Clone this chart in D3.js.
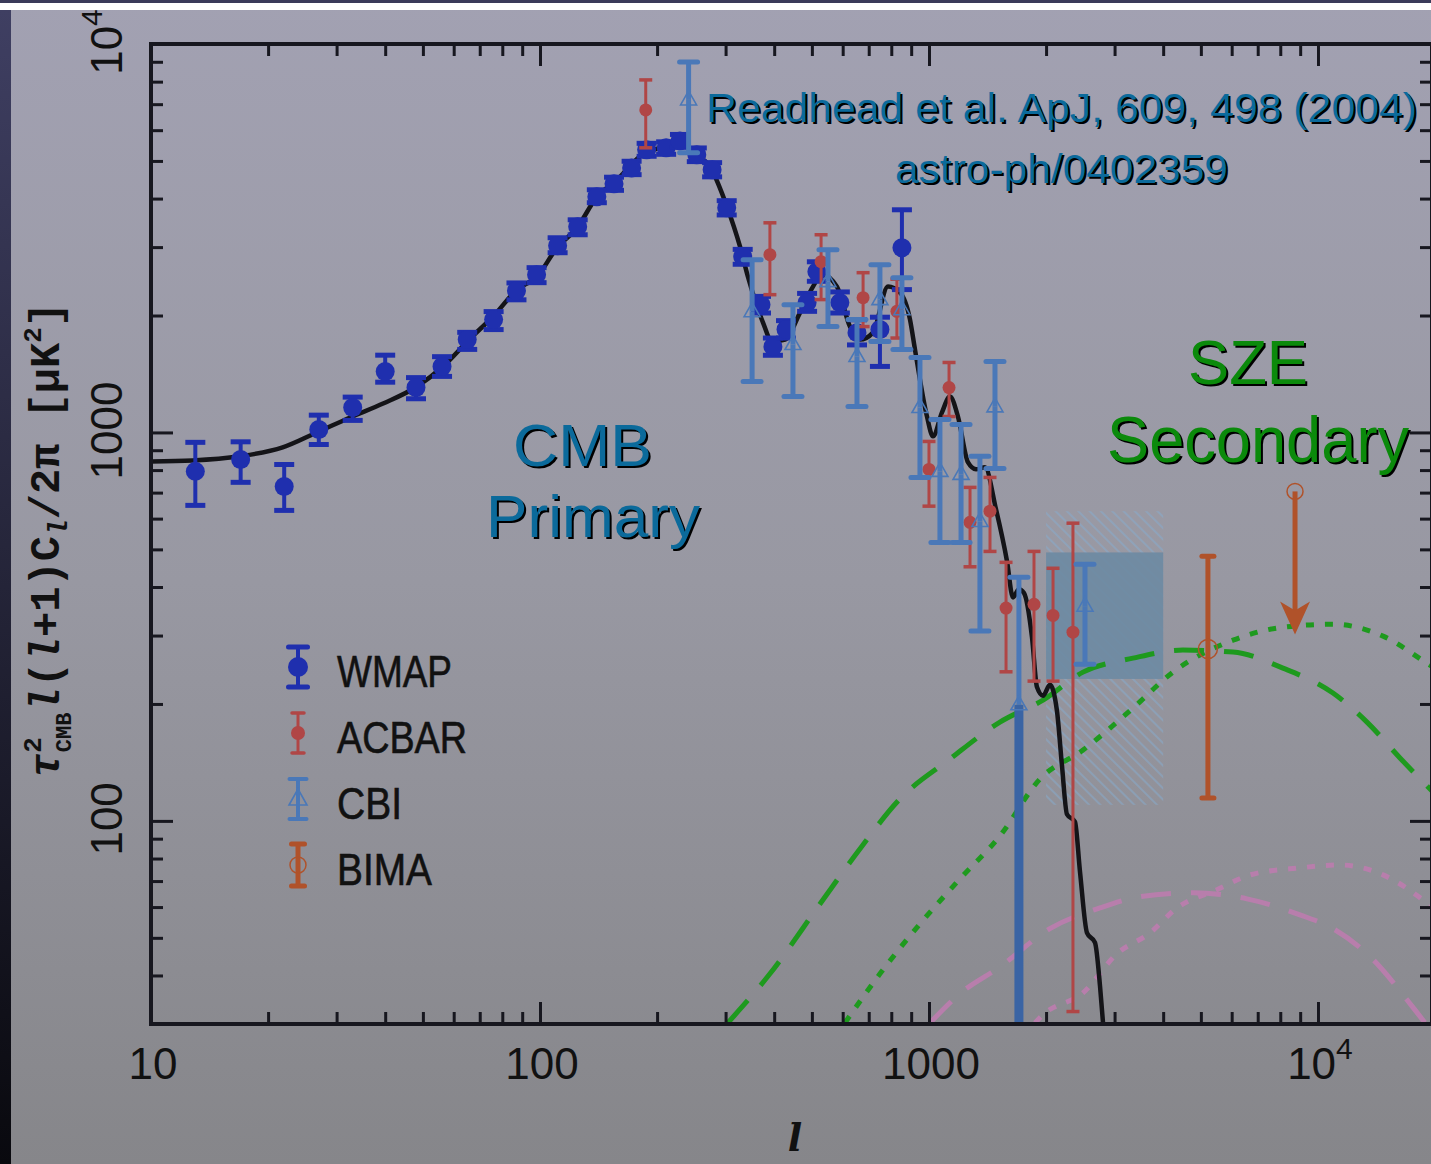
<!DOCTYPE html>
<html>
<head>
<meta charset="utf-8">
<script src="https://cdn.jsdelivr.net/npm/d3@7"></script>
<style>
  html, body { margin: 0; padding: 0; background: #fff; }
  svg { display: block; }
  svg text { font-family: "Liberation Sans", Arial, sans-serif; }
</style>
</head>
<body>
<div id="chart"></div>
<script>
// ---- values: multipole l and l(l+1)C_l/2pi [uK^2] ----

// best-fit primary CMB spectrum (black line)
var theoryL = [10, 12.8, 16.9, 21.8, 26.7, 32.5, 39.5, 48.3, 56.3, 66.1, 75.7, 87.3, 98.2, 110.6, 124.5,
  140.1, 157.8, 173.4, 184, 203.5, 226.3, 253.3, 273.5, 302.5, 326.8, 342.4, 374.4, 394.9, 426.6, 466.1,
  503.3, 530.8, 580, 626.4, 664.6, 717.8, 784.6, 842.3, 893.8, 920.5, 988.3, 1024, 1080, 1132, 1187,
  1260, 1321, 1393, 1487, 1587, 1644, 1703, 1755, 1840, 1895, 1964, 2046, 2133, 2197, 2263,
  2373, 2445, 2548, 2672, 2752, 2801];
var theoryD = [842, 847, 868, 915, 1000, 1093, 1187, 1313, 1478, 1744, 1987, 2332, 2518, 2989, 3365,
  4043, 4471, 4944, 5215, 5404, 5633, 5185, 4829, 3811, 3007, 2518, 1918, 1714, 1734, 2035,
  2374, 2548, 2374, 1873, 1734, 1807, 2374, 2291, 1952, 1635, 1099, 977, 1126, 1237, 1099,
  837, 804, 813, 634, 466, 376, 395, 386, 297, 221, 210, 224, 192, 139, 104,
  99.4, 73.9, 51.5, 48.6, 37.6, 30.3];

// SZE secondary model curves
var szeDashL = [304, 390, 525, 665, 842, 1132, 1522, 1964, 2489, 3345, 4498, 6047, 8128, 10929, 13366, 16249, 20590];
var szeDashD = [30.2, 40.4, 61.2, 84.8, 113.9, 144.3, 179.6, 204.7, 241.5, 262.4, 275.2, 272, 247.3, 213.4, 179.6, 145.2, 113.9];
var szeDotL = [608, 748, 948, 1201, 1522, 1929, 2489, 3345, 4239, 6047, 8128, 10929, 14697, 19405, 21210];
var szeDotD = [30.2, 40.4, 54.3, 70.9, 91.5, 128.2, 152.2, 195.2, 241.5, 291.9, 315.2, 320.9, 298.9, 251.8, 238.6];
var lowDashL = [1006, 1201, 1522, 2046, 2752, 3487, 4772, 6571, 8989, 10929, 13366, 17547, 18843];
var lowDashD = [30.2, 35.9, 42.1, 52.8, 59.7, 63.8, 65.3, 63.0, 57.3, 52.8, 45.5, 33.1, 30.2];
var lowDotL = [1873, 1964, 2489, 3043, 3700, 4341, 5502, 6688, 8989, 11392, 14697, 18621, 20590];
var lowDotD = [30.2, 31.7, 36.1, 45.5, 51.5, 59.7, 66.5, 72.6, 75.7, 77.0, 72.6, 62.6, 57.7];

// WMAP
var wmapL  = [13, 17, 22, 27, 33, 40, 48, 56, 65, 76, 87, 98, 111, 125, 140, 155, 172, 188, 211, 229,
  253, 277, 302, 332, 370, 397, 429, 486, 515, 590, 653, 748, 852];
var wmapD  = [794, 852, 726, 1018, 1159, 1435, 1305, 1479, 1734, 1952, 2317, 2547, 3025, 3384, 4044, 4365, 4797, 5340, 5403, 5631,
  5184, 4744, 3788, 2834, 2133, 1663, 1840, 2159, 2594, 2159, 1807, 1840, 2990];
var wmapHi = [943, 946, 827, 1108, 1233, 1581, 1384, 1567, 1810, 2047, 2426, 2656, 3171, 3527, 4214, 4540, 4990, 5550, 5600, 5850,
  5400, 4950, 3950, 2960, 2240, 1750, 1940, 2280, 2750, 2300, 1950, 1980, 3743];
var wmapLo = [649, 744, 630, 931, 1074, 1347, 1221, 1394, 1636, 1840, 2195, 2430, 2902, 3228, 3903, 4200, 4610, 5140, 5200, 5420,
  4980, 4550, 3630, 2710, 2030, 1580, 1750, 2050, 2450, 2030, 1680, 1479, 2332];

// ACBAR
var acbarL  = [187, 390, 528, 677, 827, 1000, 1126, 1275, 1435, 1578, 1862, 2084, 2345];
var acbarD  = [6765, 2868, 2752, 2223, 2050, 803, 1305, 587, 627, 353, 361, 338, 306];
var acbarHi = [8083, 3465, 3228, 2578, 2480, 948, 1514, 722, 766, 463, 494, 447, 584];
var acbarLo = [5405, 2263, 2198, 1873, 1750, 646, 1099, 451, 494, 242, 229, 229, 32.3];

// CBI (lower error of 1 = down to zero)
var cbiL  = [241, 351, 447, 550, 653, 748, 852, 948, 1067, 1209, 1352, 1478, 1703, 2518];
var cbiD  = [7178, 2046, 1684, 2445, 1568, 2198, 2070, 1159, 794, 780, 590, 1164, 199, 357];
var cbiHi = [8990, 2784, 2133, 2954, 1952, 2703, 2503, 1560, 1080, 1049, 868, 1523, 424, 458];
var cbiLo = [5246, 1352, 1237, 1873, 1166, 1714, 1635, 766, 521, 521, 308, 808, 1, 253];

// BIMA
var bimaL = [5213], bimaD = [277], bimaHi = [480], bimaLo = [114.5];
var bimaLimitL = [8730], bimaLimitD = [705], bimaLimitTip = [302];

// CBI deep-field excess band (l range, power range) and its hatched extent
var bandL = [2000, 4000];
var bandD = [232, 491];
var bandHatchD = [110, 627];

// axes
var xMajor = [10, 100, 1000, 10000];
var xMajorText = ["10", "100", "1000", "10^4"];
var yMajor = [100, 1000, 10000];
var yMajorText = ["100", "1000", "10^4"];

var legendNames = ["WMAP", "ACBAR", "CBI", "BIMA"];

// ------------------------------------------------------------------------

var W = 1431, H = 1164;
var plotL = 151, plotR = 1432, plotT = 44, plotB = 1024;

var x = d3.scaleLog().domain([10, 19640]).range([plotL, plotR]);
var y = d3.scaleLog().domain([30, 10000]).range([plotB, plotT]);

var svg = d3.select("#chart").append("svg")
    .attr("width", W)
    .attr("height", H);

var defs = svg.append("defs");

var bg = defs.append("linearGradient").attr("id", "bg")
    .attr("x1", 0).attr("y1", 0).attr("x2", 0).attr("y2", 1);
bg.append("stop").attr("offset", "0%").attr("stop-color", "#a2a1b2");
bg.append("stop").attr("offset", "50%").attr("stop-color", "#9898a2");
bg.append("stop").attr("offset", "100%").attr("stop-color", "#86868a");

var side = defs.append("linearGradient").attr("id", "side")
    .attr("x1", 0).attr("y1", 0).attr("x2", 0).attr("y2", 1);
side.append("stop").attr("offset", "0%").attr("stop-color", "#3f3f62");
side.append("stop").attr("offset", "100%").attr("stop-color", "#09090e");

var hatch = defs.append("pattern").attr("id", "hatch")
    .attr("patternUnits", "userSpaceOnUse")
    .attr("width", 8).attr("height", 8)
    .attr("patternTransform", "rotate(-45)");
hatch.append("line")
    .attr("x1", 1).attr("y1", 0).attr("x2", 1).attr("y2", 8)
    .attr("stroke", "#86accf").attr("stroke-width", 1);

defs.append("clipPath").attr("id", "clip")
  .append("rect")
    .attr("x", plotL).attr("y", plotT)
    .attr("width", plotR - plotL).attr("height", plotB - plotT);

// background, slide frame bits
svg.append("rect").attr("width", W).attr("height", H).attr("fill", "url(#bg)");
svg.append("rect").attr("x", 0).attr("y", 0).attr("width", W).attr("height", 3).attr("fill", "#3b3b5a");
svg.append("rect").attr("x", 0).attr("y", 3).attr("width", W).attr("height", 7).attr("fill", "#ffffff");
svg.append("rect").attr("x", 0).attr("y", 10).attr("width", 11).attr("height", H - 10).attr("fill", "url(#side)");

var plot = svg.append("g").attr("clip-path", "url(#clip)");

// ****************** band ***************************
plot.append("rect")
    .attr("x", x(bandL[0])).attr("width", x(bandL[1]) - x(bandL[0]))
    .attr("y", y(bandHatchD[1])).attr("height", y(bandHatchD[0]) - y(bandHatchD[1]))
    .attr("fill", "url(#hatch)");
plot.append("rect")
    .attr("x", x(bandL[0])).attr("width", x(bandL[1]) - x(bandL[0]))
    .attr("y", y(bandD[1])).attr("height", y(bandD[0]) - y(bandD[1]))
    .attr("fill", "#6d8aa2").attr("fill-opacity", 0.9);

// ****************** curves ***************************
var line = d3.line()
    .x(function(d) { return x(d[0]); })
    .y(function(d) { return y(d[1]); })
    .curve(d3.curveMonotoneX);

function pairs(L, D) {
  return L.map(function(l, i) { return [l, D[i]]; });
}

var models = [
  {L: lowDashL, D: lowDashD, color: "#b87eac", dash: "30,20"},
  {L: lowDotL,  D: lowDotD,  color: "#b87eac", dash: "8,11"},
  {L: szeDashL, D: szeDashD, color: "#1e9a1e", dash: "30,20"},
  {L: szeDotL,  D: szeDotD,  color: "#1e9a1e", dash: "8,11"}
];

plot.selectAll("path.model")
    .data(models)
  .enter().append("path")
    .attr("class", "model")
    .attr("d", function(m) { return line(pairs(m.L, m.D)); })
    .attr("fill", "none")
    .attr("stroke", function(m) { return m.color; })
    .attr("stroke-width", 5)
    .attr("stroke-dasharray", function(m) { return m.dash; });

plot.append("path")
    .attr("d", line(pairs(theoryL, theoryD)))
    .attr("fill", "none")
    .attr("stroke", "#141418")
    .attr("stroke-width", 4.5)
    .attr("stroke-linejoin", "round");

// ****************** data points ***************************
function series(L, D, Hi, Lo) {
  return L.map(function(l, i) { return {l: l, d: D[i], hi: Hi[i], lo: Lo[i]}; });
}

function drawSeries(data, st) {
  var g = plot.append("g");
  var pt = g.selectAll("g.pt").data(data).enter().append("g").attr("class", "pt");

  // upper part of the bar, lower part separately (it may run to zero)
  pt.append("line")
      .attr("x1", function(d) { return x(d.l); })
      .attr("x2", function(d) { return x(d.l); })
      .attr("y1", function(d) { return y(d.hi); })
      .attr("y2", function(d) { return y(d.d); })
      .attr("stroke", st.color).attr("stroke-width", st.bar);
  pt.append("line")
      .attr("x1", function(d) { return x(d.l); })
      .attr("x2", function(d) { return x(d.l); })
      .attr("y1", function(d) { return y(d.d); })
      .attr("y2", function(d) { return d.lo < 30 ? plotB + 5 : y(d.lo); })
      .attr("stroke", function(d) { return d.lo < 30 && st.zeroColor ? st.zeroColor : st.color; })
      .attr("stroke-width", function(d) { return d.lo < 30 && st.zeroBar ? st.zeroBar : st.bar; });

  // caps
  pt.append("line")
      .attr("x1", function(d) { return x(d.l) - st.cap / 2; })
      .attr("x2", function(d) { return x(d.l) + st.cap / 2; })
      .attr("y1", function(d) { return y(d.hi); })
      .attr("y2", function(d) { return y(d.hi); })
      .attr("stroke", st.color).attr("stroke-width", st.capW)
      .attr("stroke-linecap", st.round ? "round" : "butt");
  pt.filter(function(d) { return d.lo >= 30; }).append("line")
      .attr("x1", function(d) { return x(d.l) - st.cap / 2; })
      .attr("x2", function(d) { return x(d.l) + st.cap / 2; })
      .attr("y1", function(d) { return y(d.lo); })
      .attr("y2", function(d) { return y(d.lo); })
      .attr("stroke", st.color).attr("stroke-width", st.capW)
      .attr("stroke-linecap", st.round ? "round" : "butt");

  // markers
  if (st.marker === "triangle") {
    pt.append("path")
        .attr("d", function(d) {
          var cx = x(d.l), cy = y(d.d);
          return "M" + cx + "," + (cy - 9) + "L" + (cx + 8) + "," + (cy + 5) + "L" + (cx - 8) + "," + (cy + 5) + "Z";
        })
        .attr("fill", "none").attr("stroke", st.color).attr("stroke-width", 1.6);
  } else {
    pt.append("circle")
        .attr("cx", function(d) { return x(d.l); })
        .attr("cy", function(d) { return y(d.d); })
        .attr("r", st.r)
        .attr("fill", st.open ? "none" : st.color)
        .attr("stroke", st.open ? st.color : "none")
        .attr("stroke-width", 1.5);
  }
}

drawSeries(series(wmapL, wmapD, wmapHi, wmapLo),
  {color: "#1f2fae", bar: 4, cap: 20, capW: 5, r: 9.5});
drawSeries(series(acbarL, acbarD, acbarHi, acbarLo),
  {color: "#b04646", bar: 3, cap: 13, capW: 3.5, r: 6.5});
drawSeries(series(cbiL, cbiD, cbiHi, cbiLo),
  {color: "#4a78b8", bar: 5, cap: 18, capW: 5, round: true, marker: "triangle",
   zeroColor: "#3a64a4", zeroBar: 9});
drawSeries(series(bimaL, bimaD, bimaHi, bimaLo),
  {color: "#b0522a", bar: 5, cap: 12, capW: 5, round: true, r: 9.5, open: true});

// BIMA upper limit with arrow
bimaLimitL.forEach(function(l, i) {
  var cx = x(l), top = y(bimaLimitD[i]), tip = y(bimaLimitTip[i]);
  plot.append("circle").attr("cx", cx).attr("cy", top).attr("r", 8)
      .attr("fill", "none").attr("stroke", "#b0522a").attr("stroke-width", 1.5);
  plot.append("line").attr("x1", cx).attr("x2", cx).attr("y1", top).attr("y2", tip - 20)
      .attr("stroke", "#b0522a").attr("stroke-width", 5);
  var p = d3.path();
  p.moveTo(cx, tip);
  p.lineTo(cx - 15, tip - 33);
  p.lineTo(cx, tip - 24);
  p.lineTo(cx + 15, tip - 33);
  p.closePath();
  plot.append("path").attr("d", p.toString()).attr("fill", "#b0522a");
});

// ****************** axes ***************************
var minorX = [], minorY = [];
[10, 100, 1000, 10000].forEach(function(dec) {
  for (var m = 2; m <= 9; m++) {
    if (dec * m < 19640) minorX.push(dec * m);
    if (dec * m > 30 && dec * m < 10000) minorY.push(dec * m);
  }
});

function ticks(axis, vals, size, transform) {
  svg.append("g")
      .attr("transform", transform)
      .attr("color", "#17171f")
      .call(axis.tickValues(vals).tickSize(size).tickFormat(""))
      .call(function(g) { g.select(".domain").remove(); })
      .selectAll("line").attr("stroke-width", 3);
}

ticks(d3.axisBottom(x), xMajor, -22, "translate(0," + plotB + ")");
ticks(d3.axisBottom(x), minorX, -12, "translate(0," + plotB + ")");
ticks(d3.axisTop(x), xMajor, -22, "translate(0," + plotT + ")");
ticks(d3.axisTop(x), minorX, -12, "translate(0," + plotT + ")");
ticks(d3.axisLeft(y), yMajor, -22, "translate(" + plotL + ",0)");
ticks(d3.axisLeft(y), minorY, -12, "translate(" + plotL + ",0)");
ticks(d3.axisRight(y), yMajor, -22, "translate(" + plotR + ",0)");
ticks(d3.axisRight(y), minorY, -12, "translate(" + plotR + ",0)");

svg.append("rect")
    .attr("x", plotL).attr("y", plotT)
    .attr("width", plotR - plotL).attr("height", plotB - plotT)
    .attr("fill", "none").attr("stroke", "#17171f").attr("stroke-width", 4);

function tickText(sel, str) {
  var parts = str.split("^");
  sel.append("tspan").text(parts[0]);
  if (parts[1]) sel.append("tspan").style("font-size", "30px").attr("dy", -20).text(parts[1]);
}

xMajor.forEach(function(v, i) {
  var t = svg.append("text")
      .attr("x", x(v) + 2)
      .attr("y", 1079)
      .attr("text-anchor", "middle")
      .style("font-size", "44px")
      .attr("fill", "#111");
  tickText(t, xMajorText[i]);
});

yMajor.forEach(function(v, i) {
  var t = svg.append("text")
      .attr("transform", "translate(122," + (y(v) - 2) + ") rotate(-90)")
      .attr("text-anchor", "middle")
      .style("font-size", "44px")
      .attr("fill", "#111");
  tickText(t, yMajorText[i]);
});

// axis titles
svg.append("text")
    .attr("x", 795).attr("y", 1151)
    .attr("text-anchor", "middle")
    .style("font-family", "'DejaVu Serif', serif")
    .style("font-style", "italic")
    .style("font-weight", "bold")
    .style("font-size", "38px")
    .attr("fill", "#111")
    .text("l");

var mono = "'Liberation Mono', 'DejaVu Sans Mono', monospace";
var yt = svg.append("text")
    .attr("transform", "translate(59,540) rotate(-90)")
    .attr("text-anchor", "middle")
    .style("font-family", mono)
    .style("font-size", "42px")
    .style("font-weight", "bold")
    .attr("fill", "#111");
yt.append("tspan").style("font-style", "italic").text("τ");
yt.append("tspan").style("font-size", "26px").attr("dy", -18).text("2");
yt.append("tspan").style("font-size", "22px").attr("dx", -15).attr("dy", 30).text("CMB");
yt.append("tspan").style("font-style", "italic").attr("dy", -12).text("l");
yt.append("tspan").text("(");
yt.append("tspan").style("font-style", "italic").text("l");
yt.append("tspan").text("+1)C");
yt.append("tspan").style("font-style", "italic").style("font-size", "28px").attr("dy", 8).text("l");
yt.append("tspan").attr("dy", -8).text("/2π [μK");
yt.append("tspan").style("font-size", "26px").attr("dy", -18).text("2");
yt.append("tspan").attr("dy", 18).text("]");

// ****************** legend ***************************
var legendY = [667, 733, 799, 865];
var legendStyle = [
  {color: "#1f2fae", half: 20, cap: 19, bar: 4, capW: 5, mark: "dot", r: 10},
  {color: "#b04646", half: 20, cap: 12, bar: 3, capW: 3.5, mark: "dot", r: 7},
  {color: "#4a78b8", half: 20, cap: 17, bar: 4, capW: 4, mark: "tri"},
  {color: "#b0522a", half: 21, cap: 13, bar: 5, capW: 5, mark: "ring", r: 8}
];
var legendLen = [115, 130, 65, 95];

legendNames.forEach(function(name, i) {
  var st = legendStyle[i], cy = legendY[i], cx = 298;
  var g = svg.append("g");
  g.append("line").attr("x1", cx).attr("x2", cx).attr("y1", cy - st.half).attr("y2", cy + st.half)
      .attr("stroke", st.color).attr("stroke-width", st.bar);
  [cy - st.half, cy + st.half].forEach(function(yy) {
    g.append("line").attr("x1", cx - st.cap / 2).attr("x2", cx + st.cap / 2).attr("y1", yy).attr("y2", yy)
        .attr("stroke", st.color).attr("stroke-width", st.capW).attr("stroke-linecap", "round");
  });
  if (st.mark === "dot") {
    g.append("circle").attr("cx", cx).attr("cy", cy).attr("r", st.r).attr("fill", st.color);
  } else if (st.mark === "ring") {
    g.append("circle").attr("cx", cx).attr("cy", cy).attr("r", st.r)
        .attr("fill", "none").attr("stroke", st.color).attr("stroke-width", 1.5);
  } else {
    g.append("path")
        .attr("d", "M" + cx + "," + (cy - 10) + "L" + (cx + 9) + "," + (cy + 6) + "L" + (cx - 9) + "," + (cy + 6) + "Z")
        .attr("fill", "none").attr("stroke", st.color).attr("stroke-width", 1.6);
  }
  g.append("text")
      .attr("x", 337).attr("y", cy + 20)
      .style("font-size", "44px")
      .attr("textLength", legendLen[i])
      .attr("lengthAdjust", "spacingAndGlyphs")
      .attr("fill", "#111")
      .attr("stroke", "#111").attr("stroke-width", 0.6)
      .text(name);
});

// ****************** annotations ***************************
function shadowText(str, tx, ty, size, color, len) {
  [["#000", 2], [color, 0]].forEach(function(c) {
    svg.append("text")
        .attr("x", tx + c[1]).attr("y", ty + c[1])
        .style("font-size", size + "px")
        .attr("textLength", len)
        .attr("lengthAdjust", "spacingAndGlyphs")
        .attr("fill", c[0])
        .text(str);
  });
}

shadowText("Readhead et al. ApJ, 609, 498 (2004)", 706, 122, 41, "#0b6a9b", 711);
shadowText("astro-ph/0402359", 895, 183, 41, "#0b6a9b", 333);
shadowText("CMB", 513, 466, 60, "#0b6a9b", 139);
shadowText("Primary", 486, 537, 60, "#0b6a9b", 214);
shadowText("SZE", 1188, 384, 63, "#0b8a0b", 120);
shadowText("Secondary", 1107, 462, 64, "#0b8a0b", 302);
</script>
</body>
</html>
